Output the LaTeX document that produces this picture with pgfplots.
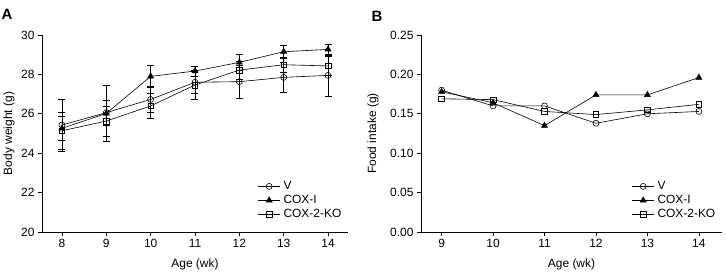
\documentclass[border=0pt]{standalone}
\usepackage{fontspec}
\setmainfont{Liberation Sans}
\usepackage{pgfplots}
\usepackage{pgfplotstable}
\pgfplotsset{compat=1.18}

% Body weight (g): mean and SD per week
\pgfplotstableread{
x  y      e
8  25.43  1.32
9  26.06  0.65
10 26.73  0.65
11 27.60  0.55
12 27.63  0.85
13 27.85  0.75
14 27.95  1.04
}\bwV
\pgfplotstableread{
x  y      e
8  25.26  0.60
9  26.02  1.43
10 27.90  0.57
11 28.17  0.25
12 28.61  0.39
13 29.15  0.34
14 29.27  0.26
}\bwCOXI
\pgfplotstableread{
x  y      e
8  25.14  0.92
9  25.63  0.75
10 26.40  0.63
11 27.46  0.73
12 28.22  0.45
13 28.49  0.40
14 28.43  0.49
}\bwKO

% Food intake (g) per week
\pgfplotstableread{
x  y
9  0.180
10 0.160
11 0.160
12 0.138
13 0.150
14 0.153
}\fiV
\pgfplotstableread{
x  y
9  0.178
10 0.164
11 0.135
12 0.174
13 0.174
14 0.196
}\fiCOXI
\pgfplotstableread{
x  y
9  0.169
10 0.168
11 0.153
12 0.149
13 0.155
14 0.162
}\fiKO

\newcommand{\lblfont}{\fontsize{12}{14}\selectfont}

\pgfplotsset{
  panel/.style={
    scale only axis,
    height=197bp,
    axis x line*=bottom,
    axis y line*=left,
    axis line style={line width=0.6bp, black},
    tick align=outside,
    major tick length=4bp,
    tick style={line width=0.6bp, black},
    /pgf/number format/assume math mode=true,
    tick label style={font=\lblfont},
    label style={font=\lblfont},
    xlabel={Age (wk)},
    xlabel style={at={(axis description cs:0.5,-0.162)}, anchor=center},
    legend cell align=left,
    legend image code/.code={%
      \draw[mark repeat=2, mark phase=2, #1]
        plot coordinates {(0bp,0bp) (11bp,0bp) (22bp,0bp)};},
    legend style={draw=none, fill=none, inner sep=0bp,
      font=\lblfont,
      nodes={inner ysep=1.5bp, inner xsep=3bp, text height=8.5bp, text depth=2.5bp},
      row sep=0bp, anchor=north west},
  },
  serV/.style={black, line width=0.6bp, mark=o, mark size=3bp,
    mark options={fill=white, solid, line width=0.6bp}},
  serI/.style={black, line width=0.6bp, mark=triangle*, mark size=3.6bp,
    mark options={fill=black, solid, line width=0.4bp}},
  serKO/.style={black, line width=0.6bp, mark=square, mark size=2.8bp,
    mark options={fill=white, solid, line width=0.6bp}},
  eb/.style={error bars/.cd, y dir=both, y explicit,
    error bar style={line width=0.6bp, black},
    error mark options={line width=0.6bp, black, mark size=3.5bp, rotate=90}},
}

\begin{document}
\begin{tikzpicture}
\useasboundingbox (0,0) rectangle (726bp,272bp);
\clip (0,0) rectangle (726bp,272bp);

% Panel A: body weight
\begin{axis}[panel,
  at={(42bp,40bp)}, anchor=south west,
  width=306bp,
  xmin=7.55, xmax=14.45, xtick={8,9,...,14},
  ymin=20, ymax=30, ytick={20,22,...,30},
  ylabel={Body weight (g)},
  ylabel style={at={(axis description cs:-0.108,0.5)}, anchor=center, rotate=0},
  legend style={at={(axis description cs:0.705,0.268)}},
]
\addplot[serV, eb] table[x=x, y=y, y error=e] {\bwV};
\addplot[serI, eb] table[x=x, y=y, y error=e] {\bwCOXI};
\addplot[serKO, eb] table[x=x, y=y, y error=e] {\bwKO};
\legend{V, COX-I, COX-2-KO}
\end{axis}

% Panel B: food intake
\begin{axis}[panel,
  at={(421bp,40bp)}, anchor=south west,
  width=301bp,
  xmin=8.6, xmax=14.45, xtick={9,10,...,14},
  ymin=0, ymax=0.25, ytick={0,0.05,0.10,0.15,0.20,0.25},
  yticklabel style={/pgf/number format/.cd, fixed, fixed zerofill, precision=2},
  ylabel={Food intake (g)},
  ylabel style={at={(axis description cs:-0.159,0.5)}, anchor=center, rotate=0},
  legend style={at={(axis description cs:0.700,0.268)}},
]
\addplot[serV] table[x=x, y=y] {\fiV};
\addplot[serI] table[x=x, y=y] {\fiCOXI};
\addplot[serKO] table[x=x, y=y] {\fiKO};
\legend{V, COX-I, COX-2-KO}
\end{axis}

\node[anchor=center, font=\fontsize{15}{17}\selectfont\bfseries] at (7bp,258bp) {A};
\node[anchor=center, font=\fontsize{15}{17}\selectfont\bfseries] at (377bp,256bp) {B};
\end{tikzpicture}
\end{document}
